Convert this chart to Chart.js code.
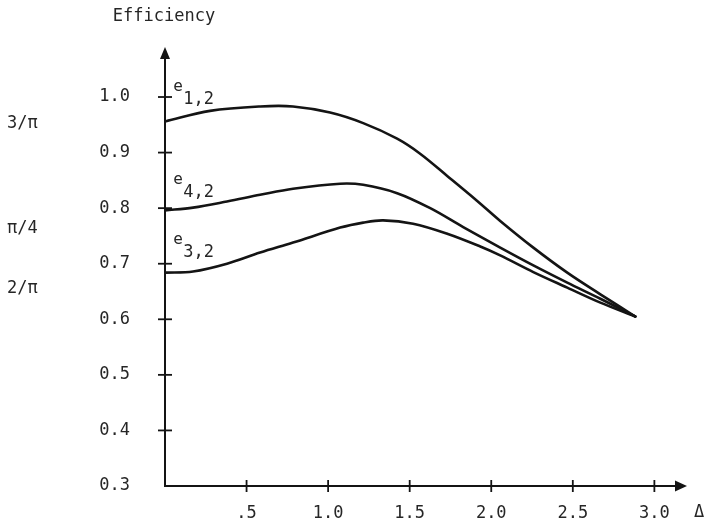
<!DOCTYPE html>
<html><head><meta charset="utf-8">
<script src="https://cdn.jsdelivr.net/npm/chart.js@4.4.1/dist/chart.umd.min.js"></script>
<style>html,body{margin:0;padding:0;background:#fff}</style>
</head><body>
<canvas id="c" width="704" height="522"></canvas>
<script>
// ---- data ----
const xTickValues = [0.5, 1.0, 1.5, 2.0, 2.5, 3.0];
const xTickLabels = ['.5', '1.0', '1.5', '2.0', '2.5', '3.0'];
const yTickValues = [0.3, 0.4, 0.5, 0.6, 0.7, 0.8, 0.9, 1.0];
const yTickLabels = ['0.3', '0.4', '0.5', '0.6', '0.7', '0.8', '0.9', '1.0'];

const delta12 = [0, 0.276, 0.583, 0.785, 1.012, 1.215, 1.423, 1.564, 1.730, 1.914, 2.055, 2.258, 2.466, 2.669, 2.883];
const eff12   = [0.956, 0.975, 0.983, 0.983, 0.972, 0.953, 0.925, 0.898, 0.858, 0.813, 0.777, 0.729, 0.684, 0.645, 0.605];

const delta42 = [0, 0.172, 0.380, 0.583, 0.785, 1.074, 1.215, 1.423, 1.626, 1.828, 2.055, 2.258, 2.466, 2.669, 2.883];
const eff42   = [0.796, 0.801, 0.812, 0.824, 0.835, 0.844, 0.842, 0.827, 0.800, 0.766, 0.729, 0.697, 0.666, 0.637, 0.605];

const delta32 = [0, 0.172, 0.380, 0.583, 0.785, 1.074, 1.215, 1.337, 1.521, 1.730, 1.933, 2.055, 2.258, 2.466, 2.669, 2.883];
const eff32   = [0.684, 0.686, 0.700, 0.720, 0.738, 0.765, 0.774, 0.778, 0.772, 0.754, 0.731, 0.715, 0.685, 0.657, 0.630, 0.605];

const curveNames = ['1,2', '4,2', '3,2'];
// label anchors (Δ, efficiency) where the curve names sit in the picture
const curveLabelX = [0.05, 0.05, 0.05];
const curveLabelY = [1.011, 0.844, 0.736];

const sideLabels = ['3/\u03C0', '\u03C0/4', '2/\u03C0'];
const sideLabelY = [0.952, 0.763, 0.655];

const yTitle = 'Efficiency';
const xTitle = '\u0394';

// ---- chart ----
const FONT = "'DejaVu Sans Mono', 'Liberation Mono', monospace";
const INK = '#141414';
const TXT = '#262626';
const CLEAR = 'rgba(0,0,0,0)';

function pts(xs, ys) { return xs.map((v, i) => ({x: v, y: ys[i]})); }

const lineStyle = {borderColor: INK, borderWidth: 2.6, pointRadius: 0, fill: false,
  tension: 0.35, borderCapStyle: 'round', borderJoinStyle: 'round'};

const decor = {
  id: 'decor',
  afterDraw(chart) {
    const {ctx, chartArea: a, scales: {x, y}} = chart;
    const x0 = x.getPixelForValue(0), y0 = y.getPixelForValue(0.3);
    ctx.save();
    ctx.strokeStyle = INK; ctx.fillStyle = INK; ctx.lineWidth = 2; ctx.lineCap = 'butt';
    // y axis + arrow
    ctx.beginPath(); ctx.moveTo(x0, y0 + 1); ctx.lineTo(x0, a.top + 8); ctx.stroke();
    ctx.beginPath(); ctx.moveTo(x0, a.top); ctx.lineTo(x0 - 5, a.top + 12); ctx.lineTo(x0 + 5, a.top + 12); ctx.closePath(); ctx.fill();
    // x axis + arrow
    ctx.beginPath(); ctx.moveTo(x0 - 1, y0); ctx.lineTo(a.right - 8, y0); ctx.stroke();
    ctx.beginPath(); ctx.moveTo(a.right, y0); ctx.lineTo(a.right - 12, y0 - 5.5); ctx.lineTo(a.right - 12, y0 + 5.5); ctx.closePath(); ctx.fill();
    // tick crosses
    ctx.lineWidth = 1.8;
    yTickValues.forEach(v => {
      if (v === 0.3) return;
      const p = y.getPixelForValue(v);
      ctx.beginPath(); ctx.moveTo(x0 - 7, p); ctx.lineTo(x0 + 7, p); ctx.stroke();
    });
    xTickValues.forEach(v => {
      const p = x.getPixelForValue(v);
      ctx.beginPath(); ctx.moveTo(p, y0 - 6); ctx.lineTo(p, y0 + 6); ctx.stroke();
    });
    // texts
    ctx.fillStyle = TXT;
    ctx.font = '17px ' + FONT;
    ctx.textBaseline = 'middle';
    ctx.textAlign = 'center';
    ctx.fillText(yTitle, x0 - 1, 17);
    ctx.textAlign = 'left';
    ctx.fillText(xTitle, a.right + 7, 513);
    sideLabels.forEach((s, i) => ctx.fillText(s, 7, y.getPixelForValue(sideLabelY[i])));
    // curve names e_{i,j}
    ctx.textBaseline = 'alphabetic';
    curveNames.forEach((s, i) => {
      const px = x.getPixelForValue(curveLabelX[i]);
      const py = y.getPixelForValue(curveLabelY[i]);
      ctx.font = '16px ' + FONT;
      ctx.fillText('e', px, py);
      ctx.font = '17px ' + FONT;
      ctx.fillText(s, px + 10, py + 13);
    });
    ctx.restore();
  }
};

new Chart(document.getElementById('c'), {
  type: 'line',
  data: {
    datasets: [
      {label: 'e' + curveNames[0], data: pts(delta12, eff12), ...lineStyle},
      {label: 'e' + curveNames[1], data: pts(delta42, eff42), ...lineStyle},
      {label: 'e' + curveNames[2], data: pts(delta32, eff32), ...lineStyle}
    ]
  },
  options: {
    responsive: false,
    animation: false,
    events: [],
    layout: {padding: {left: 0, top: 47, right: 17, bottom: 0}},
    plugins: {legend: {display: false}, tooltip: {enabled: false}, title: {display: false}},
    scales: {
      x: {
        type: 'linear', min: 0, max: 3.2,
        grid: {display: true, drawOnChartArea: false, drawTicks: true, tickLength: 17, color: CLEAR},
        border: {display: false},
        afterFit(s) { s.height = 36; },
        afterBuildTicks(s) { s.ticks = xTickValues.map(v => ({value: v})); },
        ticks: {autoSkip: false, maxRotation: 0, padding: 0, color: TXT,
          font: {family: FONT, size: 17},
          callback: (v, i) => xTickLabels[i]}
      },
      y: {
        type: 'linear', min: 0.3, max: 1.09,
        grid: {display: true, drawOnChartArea: false, drawTicks: true, tickLength: 35, color: CLEAR},
        border: {display: false},
        afterFit(s) { s.width = 165; },
        afterBuildTicks(s) { s.ticks = yTickValues.map(v => ({value: v})); },
        ticks: {autoSkip: false, padding: 0, color: TXT,
          font: {family: FONT, size: 17},
          callback: (v, i) => yTickLabels[i]}
      }
    }
  },
  plugins: [decor]
});
</script>
</body></html>
